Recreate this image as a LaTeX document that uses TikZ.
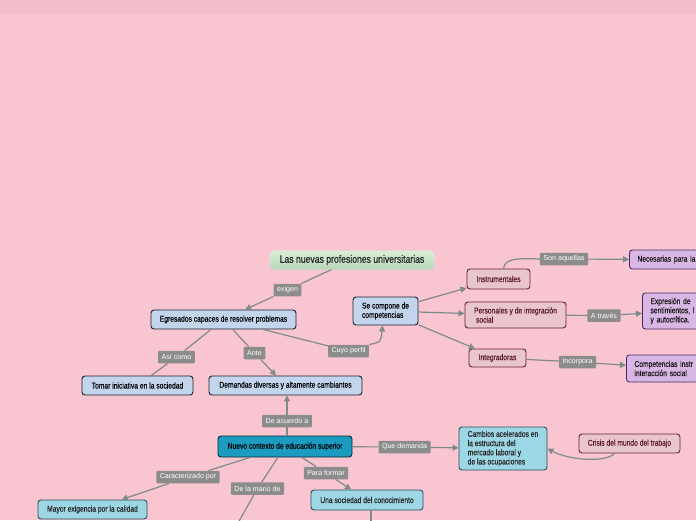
\documentclass[tikz,border=0pt]{standalone}
\usepackage{fontspec}
\setmainfont{Liberation Sans}
\newfontfamily\nodefont{Liberation Sans}[FakeStretch=0.8, FakeBold=0.25]
\newfontfamily\titlefont{Liberation Sans}[FakeStretch=0.8, FakeBold=0.6]
\usetikzlibrary{arrows.meta}
\definecolor{cfondo}{HTML}{F8C5D0}
\definecolor{cbanda}{HTML}{F3BDC9}
\definecolor{cverde1}{HTML}{D8EFD8}
\definecolor{cverde2}{HTML}{B7D8B8}
\definecolor{cazul}{HTML}{C3D5EC}
\definecolor{cbordeazul}{HTML}{1E1E2A}
\definecolor{cturquesa}{HTML}{1A9BBF}
\definecolor{cbordeturq}{HTML}{0E2630}
\definecolor{cceleste}{HTML}{9DD6E4}
\definecolor{cbordecel}{HTML}{2E4D5A}
\definecolor{crosa}{HTML}{E9C6CC}
\definecolor{cbordero}{HTML}{6A1F32}
\definecolor{ctextoro}{HTML}{5A1829}
\definecolor{clila}{HTML}{D9B7E4}
\definecolor{cbordeli}{HTML}{4B2762}
\definecolor{cgris}{HTML}{8C8C8C}
\definecolor{clinea}{HTML}{7E8A8B}
\tikzset{
	caja/.style={draw, rounded corners=3pt, line width=0.9pt, inner xsep=4pt, inner ysep=2pt, minimum height=19pt, font=\nodefont\fontsize{8.4}{9.2}\selectfont},
	azul/.style={caja, fill=cazul, draw=cbordeazul, text=black},
	oscuro/.style={caja, fill=cturquesa, draw=cbordeturq, text=black},
	celeste/.style={caja, fill=cceleste, draw=cbordecel, text=black!85},
	rosa/.style={caja, fill=crosa, draw=cbordero, text=ctextoro},
	lila/.style={caja, fill=clila, draw=cbordeli, text=black!90, anchor=west, align=left, inner xsep=8pt},
	etiqueta/.style={fill=cgris, text=white, inner xsep=3.5pt, inner ysep=1.5pt, minimum height=12.5pt, rounded corners=1pt, font=\fontsize{7.1}{8}\selectfont},
	linea/.style={draw=clinea, line width=1.2pt},
	flecha/.style={linea, -{Triangle[length=6pt,width=6pt]}}
}
\begin{document}
\begin{tikzpicture}[x=1pt,y=-1pt]
	\useasboundingbox (0,0) rectangle (696,520);
	\fill[cfondo] (0,0) rectangle (696,520);
	\fill[cbanda] (0,0) rectangle (696,14);
%	\draw[help lines] (0,0) grid[step=50] (696,520);
	\node[rounded corners=3pt, top color=cverde1, bottom color=cverde2, minimum width=164pt, minimum height=19pt, text=black!85, font=\titlefont\fontsize{10.8}{11.5}\selectfont] (titulo) at (352,260) {Las nuevas profesiones universitarias};
	\node[azul, minimum width=145pt] (egresados) at (223.5,319.5) {Egresados capaces de resolver problemas};
	\node[azul, minimum width=65pt, minimum height=28pt, align=left] (compone) at (385.5,311) {Se compone de\\competencias};
	\node[azul, minimum width=111pt] (tomar) at (137.5,385.5) {Tomar iniciativa en la sociedad};
	\node[azul, minimum width=153pt] (demandas) at (285.5,385.5) {Demandas diversas y altamente cambiantes};
	\node[oscuro, minimum width=134pt, minimum height=21pt] (nuevo) at (285,446.5) {Nuevo contexto de educación superior};
	\node[celeste, minimum width=109pt] (mayor) at (92.5,509.5) {Mayor exigencia por la calidad};
	\node[celeste, minimum width=112pt, minimum height=20pt] (sociedad) at (367,500) {Una sociedad del conocimiento};
	\node[celeste, minimum width=88pt, minimum height=43pt, align=left] (cambios) at (503,448.5) {Cambios acelerados en\\la estructura del\\mercado laboral y\\de las ocupaciones};
	\node[rosa, minimum width=101pt] (crisis) at (629.5,443.5) {Crisis del mundo del trabajo};
	\node[rosa, minimum width=63pt, minimum height=20pt] (instrumentales) at (498.5,279) {Instrumentales};
	\node[rosa, minimum width=101pt, minimum height=26pt, align=left] (personales) at (515.5,315) {Personales y de integración\\\hspace*{2pt}social};
	\node[rosa, minimum width=57pt, minimum height=18pt] (integradoras) at (497.5,358) {Integradoras};
	\node[lila, text width=80pt] (necesarias) at (629,259.5) {Necesarias para la};
	\node[lila, text width=70pt, minimum height=36pt] (expresion) at (642,311) {Expresión de\\sentimientos, l\\y autocrítica.};
	\node[lila, text width=80pt, minimum height=27pt] (competencias) at (626,368.5) {Competencias instr\\interacción social};
	\node[etiqueta] (exigen) at (287.5,290) {exigen};
	\node[etiqueta] (asi) at (176.5,357) {Así como};
	\node[etiqueta] (ante) at (254.5,353) {Ante};
	\node[etiqueta] (cuyo) at (348.5,351) {Cuyo perfil};
	\node[etiqueta] (son) at (564,259) {Son aquellas};
	\node[etiqueta] (atraves) at (604,315.5) {A través};
	\node[etiqueta] (incorpora) at (577.5,362) {Incorpora};
	\node[etiqueta] (deacuerdo) at (287,421) {De acuerdo a};
	\node[etiqueta] (quedemanda) at (404.5,447) {Que demanda};
	\node[etiqueta] (caracterizado) at (188,477) {Caracterizado por};
	\node[etiqueta] (delamano) at (257.5,488.5) {De la mano de};
	\node[etiqueta] (paraformar) at (326,473) {Para formar};
	\coordinate (abajo) at (234,530);
	\coordinate (abajo2) at (371,530);
	\draw[flecha] (titulo) -- (exigen) -- (egresados);
	\draw[linea] (egresados) -- (asi) -- (tomar);
	\draw[flecha] (egresados) -- (ante) -- (demandas);
	\draw[linea] (egresados) -- (cuyo);
	\draw[flecha] (cuyo.north east) .. controls (381,342) .. ([xshift=-3pt]compone.south);
	\draw[flecha] (compone) -- (instrumentales);
	\draw[flecha] (compone) -- (personales);
	\draw[flecha] (compone) -- (integradoras);
	\draw[linea] ([xshift=5pt]instrumentales.north) .. controls (505,259) and (515,258) .. (son.west);
	\draw[flecha] (son) -- (necesarias);
	\draw[flecha] (personales) -- (atraves) -- (expresion);
	\draw[flecha] (integradoras) -- (incorpora) -- (competencias);
	\draw[flecha] (nuevo.north -| deacuerdo) -- (deacuerdo) -- (demandas.south -| deacuerdo);
	\draw[flecha] (nuevo) -- (quedemanda) -- (cambios);
	\draw[flecha] ([xshift=-15pt]crisis.south) .. controls (606,463) and (568,460) .. (cambios.east);
	\draw[flecha] (nuevo) -- (caracterizado) -- (mayor);
	\draw[flecha] (nuevo) -- (delamano) -- (abajo);
	\draw[flecha] (nuevo) -- (paraformar) -- (sociedad);
	\draw[linea] ([xshift=4pt]sociedad.south) -- (abajo2);
\end{tikzpicture}
\end{document}
